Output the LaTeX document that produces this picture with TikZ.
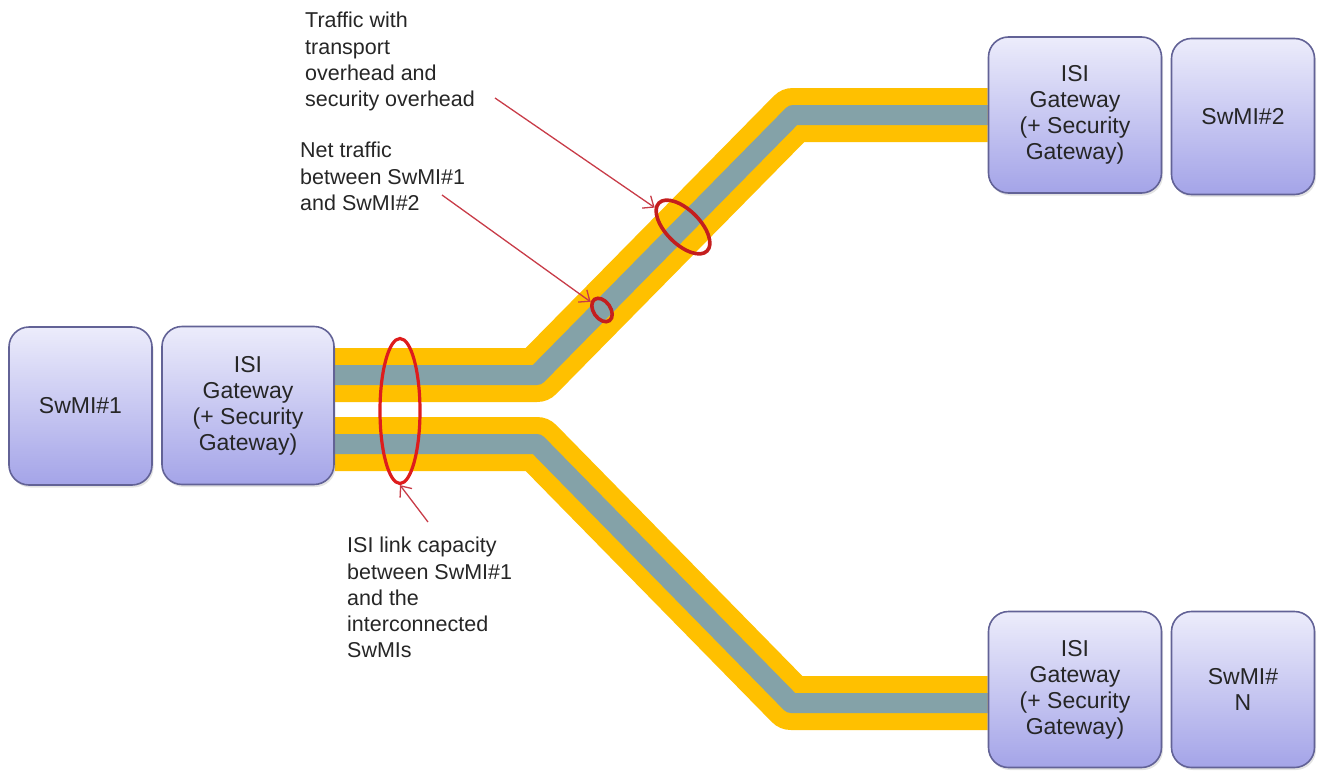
\documentclass[tikz,border=0pt]{standalone}
\usepackage{fontspec}
\setmainfont{Liberation Sans}
\usetikzlibrary{shapes.geometric,shadows,arrows.meta}
\pgfdeclarelayer{background}
\pgfsetlayers{background,main}

\definecolor{pipegold}{RGB}{255,192,0}
\definecolor{pipecore}{RGB}{132,162,168}
\definecolor{boxtop}{RGB}{236,236,251}
\definecolor{boxbot}{RGB}{164,164,232}
\definecolor{boxline}{RGB}{98,98,150}
\definecolor{markred}{RGB}{222,28,28}
\definecolor{markdark}{RGB}{196,30,30}
\definecolor{notered}{RGB}{200,60,72}
\definecolor{txt}{RGB}{38,38,38}

\begin{document}
\begin{tikzpicture}[x=1pt,y=-1pt,
  box/.style={draw=boxline, line width=1.6pt, rounded corners=20pt,
    top color=boxtop, bottom color=boxbot, align=center, text=txt,
    font=\fontsize{23}{26}\selectfont, inner sep=0pt,
    drop shadow={opacity=0.22, shadow xshift=1.5pt, shadow yshift=-2.5pt}},
  gw/.style={box, minimum width=173pt, minimum height=156pt},
  sw/.style={box, minimum width=143pt, minimum height=156pt},
  note/.style={align=left, anchor=north west, inner sep=0pt, text=txt,
    font=\fontsize{21.5}{26.3}\selectfont},
  pipeouter/.style={draw=pipegold, line width=54pt, line join=round},
  pipeinner/.style={draw=pipecore, line width=20pt, line join=round},
  ring/.style={draw=markred, line width=3.2pt, ellipse, inner sep=0pt},
  pointer/.style={draw=notered, line width=1.3pt,
    -{Straight Barb[length=9pt,width=15pt,line width=1.3pt]}}
]
\useasboundingbox (0,0) rectangle (1320,771);

% systems and gateways
\node[sw, minimum height=158pt] (s1) at (80.5,406) {SwMI\#1};
\node[gw, minimum width=172pt, minimum height=158pt] (g1) at (248,405.5) {ISI\\Gateway\\(+ Security\\Gateway)};
\node[gw] (g2) at (1075,115) {ISI\\Gateway\\(+ Security\\Gateway)};
\node[sw] (s2) at (1243,116.5) {SwMI\#2};
\node[gw] (g3) at (1075,689.5) {ISI\\Gateway\\(+ Security\\Gateway)};
\node[sw] (s3) at (1243,689.5) {SwMI\#\\N};

% bends of the two links
\coordinate (ua) at (537,375);
\coordinate (ub) at (793,115);
\coordinate (la) at (537,444);
\coordinate (lb) at (791,703);

% links: overhead band with the net traffic core
\begin{pgfonlayer}{background}
  \draw[pipeouter] (g1.east |- ua) -- (ua) -- (ub) -- (g2.west |- ub);
  \draw[pipeinner] (g1.east |- ua) -- (ua) -- (ub) -- (g2.west |- ub);
  \draw[pipeouter] (g1.east |- la) -- (la) -- (lb) -- (g3.west |- lb);
  \draw[pipeinner] (g1.east |- la) -- (la) -- (lb) -- (g3.west |- lb);
\end{pgfonlayer}

% highlighted cross sections
\node[ring, minimum width=40pt, minimum height=145pt] (e0) at (400,411) {};
\node[ring, draw=markdark, line width=3.6pt, minimum width=26pt, minimum height=17pt, rotate=-55] (e1) at (602,310) {};
\node[ring, draw=markdark, line width=3.6pt, minimum width=68pt, minimum height=34pt, rotate=-45] (e2) at (683,227) {};

% annotations
\node[note] (t1) at (305,12) {Traffic with\\transport\\overhead and\\security overhead};
\node[note] (t2) at (300,142) {Net traffic\\between SwMI\#1\\and SwMI\#2};
\node[note] (t3) at (347,537) {ISI link capacity\\between SwMI\#1\\and the\\interconnected\\SwMIs};

\coordinate (a1) at (495,98);
\coordinate (a2) at (442,195);
\coordinate (a3) at (428,522);
\draw[pointer] (a1) -- (e2);
\draw[pointer] (a2) -- (e1);
\draw[pointer] (a3) -- (e0.south);
\end{tikzpicture}
\end{document}
